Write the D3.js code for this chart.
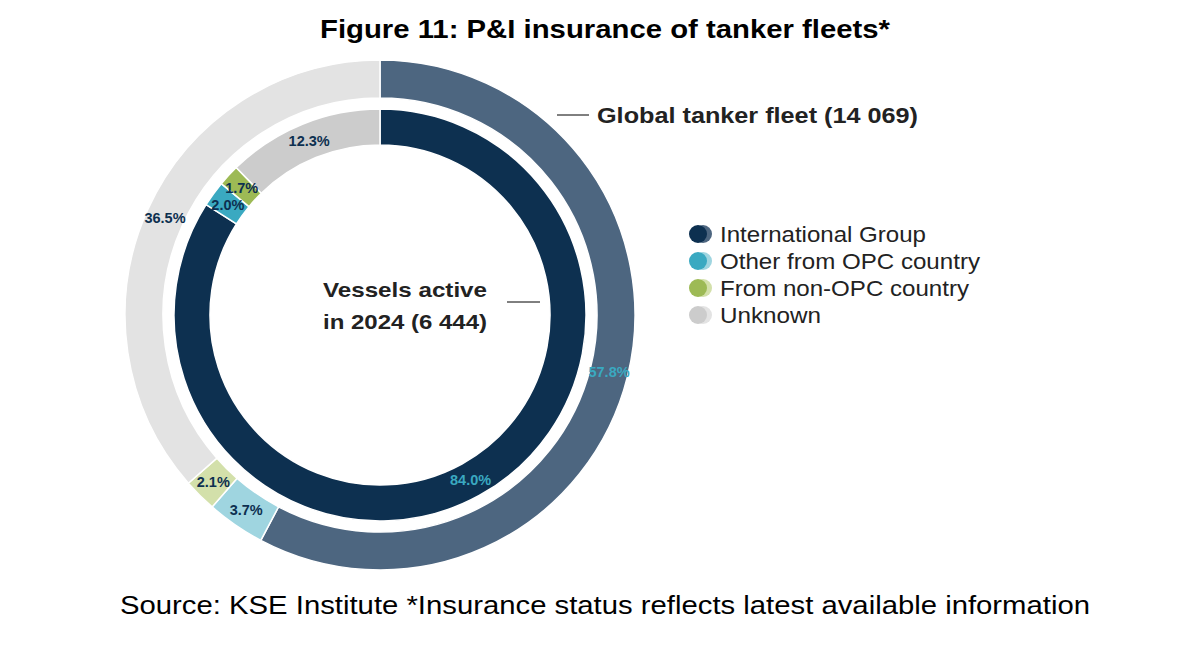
<!DOCTYPE html>
<html><head><meta charset="utf-8">
<script src="https://cdn.jsdelivr.net/npm/d3@7"></script>
<style>body{margin:0;background:#fff;font-family:"Liberation Sans",Arial,sans-serif}</style>
</head><body><svg id="c" width="1190" height="658"></svg>
<script>
const categories=["International Group","Other from OPC country","From non-OPC country","Unknown"];
const innerValues=[84.0,2.0,1.7,12.3];
const outerValues=[57.8,3.7,2.1,36.5];
const innerColors=["#0d3050","#3aa9c1","#9dba55","#cccccc"];
const outerColors=["#4d6680","#9fd5e0","#d3e0aa","#e3e3e3"];
const svg=d3.select("#c");
const cx=380,cy=315;
const g=svg.append("g").attr("transform",`translate(${cx},${cy})`);
const pie=d3.pie().sort(null).value(d=>d);
function ring(vals,cols,ri,ro,labCols){
  const arc=d3.arc().innerRadius(ri).outerRadius(ro);
  const arcs=pie(vals);
  g.selectAll(null).data(arcs).enter().append("path").attr("d",arc)
   .attr("fill",(d,i)=>cols[i]).attr("stroke","#fff").attr("stroke-width",1.5);
  g.selectAll(null).data(arcs).enter().append("text")
   .attr("transform",d=>`translate(${arc.centroid(d)})`)
   .attr("text-anchor","middle").attr("dy","0.35em")
   .attr("font-size",14.5).attr("font-weight","bold")
   .attr("fill",(d,i)=>labCols[i]).text(d=>d.data.toFixed(1)+"%");
}
ring(outerValues,outerColors,217,255,["#3aa9c1","#0d3050","#0d3050","#0d3050"]);
ring(innerValues,innerColors,170,206,["#3aa9c1","#0d3050","#0d3050","#0d3050"]);
function txt(x,y,s,size,w,len,anchor,fill){
  const t=svg.append("text").attr("x",x).attr("y",y).attr("font-size",size).attr("font-weight",w)
    .attr("fill",fill||"#222").attr("text-anchor",anchor||"start").text(s);
  if(len) t.attr("textLength",len).attr("lengthAdjust","spacingAndGlyphs");
  return t;
}
txt(320,38,"Figure 11: P&I insurance of tanker fleets*",25,"bold",570,"start","#000");
svg.append("line").attr("x1",557).attr("x2",589).attr("y1",115).attr("y2",115).attr("stroke","#000");
txt(597,123,"Global tanker fleet (14 069)",22,"bold",321);
svg.append("line").attr("x1",507).attr("x2",540).attr("y1",302).attr("y2",302).attr("stroke","#000");
txt(323,297,"Vessels active",21,"bold",164);
txt(323,329,"in 2024 (6 444)",21,"bold",164);
const legLens=[206,260,249,101];
const lg=svg.append("g");
categories.forEach((c,i)=>{
  const y=234+i*27;
  lg.append("circle").attr("cx",703).attr("cy",y).attr("r",9).attr("fill",outerColors[i]);
  lg.append("circle").attr("cx",698).attr("cy",y).attr("r",9).attr("fill",innerColors[i]);
  txt(720,y+8,c,22,"normal",legLens[i]);
});
txt(120,614,"Source: KSE Institute *Insurance status reflects latest available information",25,"normal",970,"start","#000");
</script></body></html>
